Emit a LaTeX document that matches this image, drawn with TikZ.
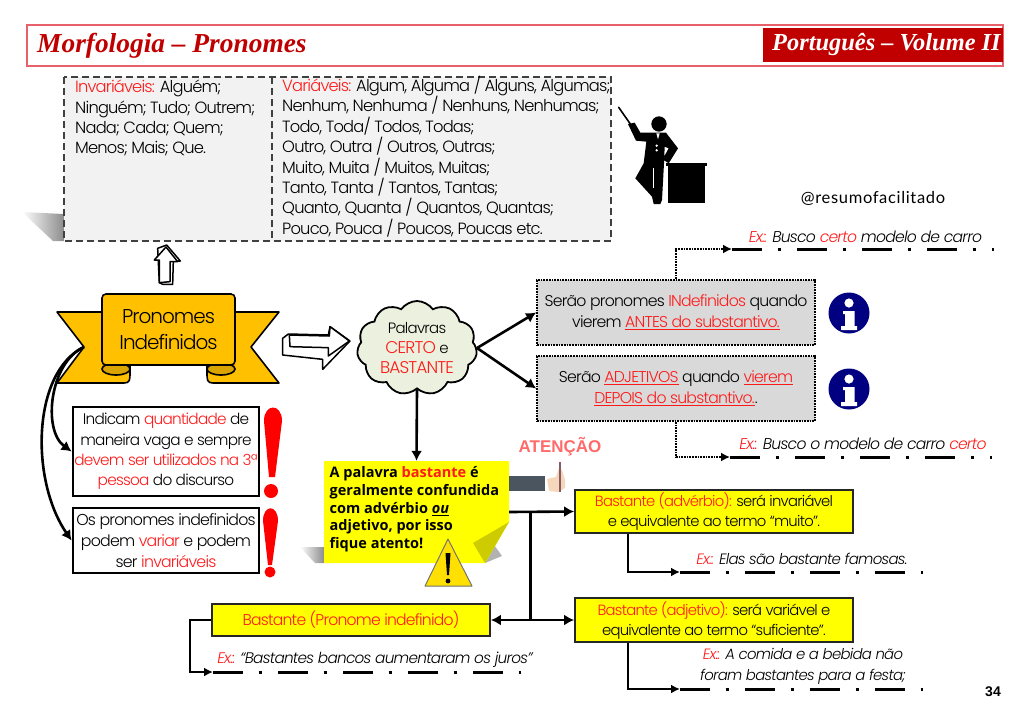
\documentclass[tikz,border=0pt]{standalone}
\usepackage{fontspec}
\usepackage{xcolor}
\usetikzlibrary{calc}
\usetikzlibrary{arrows.meta}
\usetikzlibrary{shapes.symbols}
\setmainfont[LetterSpace=-5,ItalicFont={Poppins Light Italic}]{Poppins Light}
\newfontfamily\titlefont{Liberation Serif}
\newfontfamily\notefont{Open Sans}
\newfontfamily\headfont{Liberation Sans}
\newfontfamily\tagfont[LetterSpace=4]{Lato}
\definecolor{txtred}{HTML}{FF1A1A}
\definecolor{deepred}{HTML}{C00000}
\definecolor{frame}{HTML}{E8606A}
\definecolor{amber}{HTML}{FFC000}
\definecolor{amberdark}{HTML}{D9A300}
\definecolor{greenish}{HTML}{EBF1DE}
\definecolor{navy}{HTML}{000080}
\definecolor{brightyellow}{HTML}{FFFF00}
\definecolor{foldyellow}{HTML}{CCCC00}
\definecolor{warnyellow}{HTML}{FFE000}
\definecolor{slate}{HTML}{4A5560}
\definecolor{skin}{HTML}{F5D8BC}
\definecolor{stick}{HTML}{8A5A60}
\newcommand{\rd}[1]{\textcolor{txtred}{#1}}
\newcommand{\bigcaps}[1]{{\fontsize{17}{20.4}\selectfont\textcolor{txtred}{#1}}}
\tikzstyle{listtext}=[inner sep=0pt, align=left, anchor=north west, font=\fontsize{16.3}{20.4}\selectfont]
\tikzstyle{greybox}=[draw, densely dotted, line width=1.7pt, fill=black!15, minimum width=278pt, minimum height=65pt, align=center, inner sep=0pt, font=\fontsize{15.7}{21}\selectfont]
\tikzstyle{blackbox}=[draw, line width=2.8pt, fill=white, minimum width=186pt, align=center, inner sep=0pt, font=\fontsize{15.3}{20.4}\selectfont]
\tikzstyle{yellowbox}=[draw=black!85, line width=1.8pt, fill=brightyellow, minimum width=278pt, align=center, inner sep=0pt, font=\fontsize{14.8}{20}\selectfont]
\tikzstyle{extext}=[inner sep=0pt, align=center, font=\itshape\fontsize{15.6}{21}\selectfont]
\tikzstyle{exline}=[line width=3pt, dash pattern=on 30pt off 15.5pt on 3.5pt off 16pt]
\tikzstyle{dotarrow}=[densely dotted, line width=1.7pt, -{Latex[length=9pt,width=9pt]}]
\tikzstyle{elbow}=[line width=1.8pt, -{Latex[length=9pt,width=9pt]}]
\tikzstyle{link}=[line width=2.6pt, -{Latex[length=10pt,width=11pt]}]
\tikzstyle{hollow}=[draw, line width=1.5pt, fill=white, line join=round]
\tikzstyle{fadeshadow}=[left color=white, right color=black!45]
\begin{document}
\begin{tikzpicture}
        [x=1pt,y=-1pt]
            \useasboundingbox (0,0) rectangle (1024,724);
            \draw [frame, line width=1.2pt] (27,25) rectangle (1003,66);
            \fill [deepred] (763,28) rectangle (1003,62);
            \node [anchor=west, inner sep=0pt, text=deepred, font=\titlefont\bfseries\itshape\fontsize{27.4}{27.4}\selectfont] (title) at (37,45.5) {Morfologia – Pronomes};
            \node [anchor=west, inner sep=0pt, text=white, font=\titlefont\bfseries\itshape\fontsize{24.4}{24.4}\selectfont] (volume) at (772,44.5) {Português – Volume II};

            \shade [fadeshadow] (22,212) -- (64,214) -- (64,241) -- (53,241) -- cycle;
            \draw [line width=1.3pt, black!75, fill=black!5, dash pattern=on 7pt off 4pt] (64,77) rectangle (611,241);
            \draw [line width=1.3pt, black!75, dash pattern=on 7pt off 4pt] (272,77) -- ++(0,164);
            \node [listtext] (invariaveis) at (75,80) {\rd{Invariáveis:} Alguém;\\Ninguém; Tudo; Outrem;\\Nada; Cada; Quem;\\Menos; Mais; Que.};
            \node [listtext] (variaveis) at (282,76) {\rd{Variáveis:} Algum, Alguma / Alguns, Algumas;\\Nenhum, Nenhuma / Nenhuns, Nenhumas;\\Todo, Toda/ Todos, Todas;\\Outro, Outra / Outros, Outras;\\Muito, Muita / Muitos, Muitas;\\Tanto, Tanta / Tantos, Tantas;\\Quanto, Quanta / Quantos, Quantas;\\Pouco, Pouca / Poucos, Poucas etc.};

            \begin{scope}[shift={(512,0)},scale=1/3]
                \draw [line width=1.6pt, line cap=round] (320,322) -- (355,372);
                \fill (441,372) circle (23);
                \fill (348,372) -- (368,368) -- (385,398) -- (462,398) -- (498,445) -- (470,490) -- (452,478) -- (470,445) -- (458,440) -- (456,490) -- (450,600) -- (445,612) -- (425,612) -- (420,590) -- (370,535) -- (395,490) -- (403,425) -- (372,422) -- cycle;
                \draw [white, line width=1.4pt] (425,505) -- (425,565);
                \fill [white] (433,400) -- (443,400) -- (438,418) -- cycle;
                \fill [white] (434,437) circle (4) (434,451) circle (4);
                \fill (462,488) rectangle (584,497);
                \fill (468,495) rectangle (578,608);
            \end{scope}
            \node [inner sep=0pt, font=\tagfont\fontsize{16.5}{16.5}\selectfont] (insta) at (873,198) {@resumofacilitado};

            \begin{scope}[scale=1/3]
                \draw [hollow] (473,745) -- (500,735) -- (541,783) -- (520,783) -- (518,853) -- (488,853) -- (478,848) -- cycle;
                \draw [hollow] (498,741) -- (533,785) -- (510,785) -- (510,845) -- (478,848) -- (478,780) -- (463,780) -- cycle;
            \end{scope}

            \draw [line width=1.6pt, fill=amber, line join=round] (102,312) -- (57,312) -- (84,347) -- (57,383) -- (124,383) .. controls (130,383) and (130,380) .. (130,372) -- (130,365) -- cycle;
            \draw [line width=1.6pt, fill=amber, line join=round] (235,312) -- (279,312) -- (251,347) -- (279,383) -- (213,383) .. controls (207,383) and (207,380) .. (207,372) -- (207,365) -- cycle;
            \draw [line width=1.6pt, fill=amberdark] (116,369) ellipse (14 and 6);
            \draw [line width=1.6pt, fill=amberdark] (221,369) ellipse (14 and 6);
            \node [draw, line width=1.6pt, fill=amber, rounded corners=4pt, minimum width=133pt, minimum height=71pt, inner sep=0pt, align=center, font=\fontsize{20}{26}\selectfont] (ribbon) at (168.5,329.5) {Pronomes\\Indefinidos};
            \coordinate (wingtip) at (84,347);

            \begin{scope}[shift={(20,280)},scale=1/3]
                \draw [hollow] (805,162) -- (788,175) -- (788,225) -- (908,238) -- (908,268) -- (990,183) -- (930,140) -- (925,165) -- cycle;
                \draw [hollow] (808,165) -- (928,168) -- (930,140) -- (988,183) -- (925,228) -- (925,203) -- (810,200) -- cycle;
            \end{scope}

            \node [cloud, cloud puffs=11, cloud puff arc=110, aspect=1.3, draw, line width=1.8pt, fill=greenish, minimum width=120pt, minimum height=94pt, inner sep=0pt, align=center, font=\fontsize{15}{20.4}\selectfont] (palavras) at (417,348) {Palavras\\\bigcaps{CERTO} e\\\bigcaps{BASTANTE}};

            \node [greybox] (boxindef) at (676,312.5) {Serão pronomes \rd{INdefinidos} quando\\vierem \rd{\underline{ANTES do substantivo.}}};
            \node [greybox] (boxadj) at (676,388.5) {Serão \rd{\underline{ADJETIVOS}} quando \rd{\underline{vierem}}\\\rd{\underline{DEPOIS do substantivo.}}.};
            \draw [link] (palavras.east) -- (boxindef.west);
            \draw [link] (palavras.east) -- (boxadj.west);

            \foreach \yy/\nn in {313/infoa,389/infob} {
                \node [circle, fill=navy, minimum size=41pt, inner sep=0pt] (\nn) at (849,\yy) {};
                \fill [white] (849,\yy-10) circle (4.6);
                \fill [white] (843,\yy-2) -- (854.5,\yy-2) -- (854.5,\yy+13) -- (857,\yy+13) -- (857,\yy+17) -- (841,\yy+17) -- (841,\yy+13) -- (845,\yy+13) -- (845,\yy+1) -- (843,\yy+1) -- cycle;
            }

            \coordinate (exa) at (732,249);
            \coordinate (exb) at (730,457);
            \draw [exline] (exa) -- ++(262,0);
            \draw [exline] (exb) -- ++(262,0);
            \draw [dotarrow] (boxindef.north) |- (exa);
            \draw [dotarrow] (boxadj.south) |- (exb);
            \node [extext] (extexta) at (865.5,237) {\rd{Ex.:} Busco \rd{certo} modelo de carro};
            \node [extext] (extextb) at (863,444) {\rd{Ex.:} Busco o modelo de carro \rd{certo}};

            \node [blackbox, minimum height=89pt] (boxquant) at (166,451.5) {Indicam \rd{quantidade} de\\maneira vaga e sempre\\\rd{devem ser utilizados na 3ª}\\\rd{pessoa} do discurso};
            \node [blackbox, minimum height=65pt, font=\fontsize{15.8}{20.8}\selectfont] (boxvaria) at (166,540.5) {Os pronomes indefinidos\\podem \rd{variar} e podem\\ser \rd{invariáveis}};
            \draw [link] (wingtip) .. controls (50,362) and (42,430) .. (boxquant.west);
            \draw [link] (wingtip) .. controls (32,372) and (30,480) .. (boxvaria.west);

            \fill [red] (264,421) .. controls (264,403) and (282,403) .. (282,421) -- (275,477) -- (269,477) -- cycle;
            \fill [red] (271,491) circle (7);
            \fill [red] (263,521) .. controls (263,504) and (278,504) .. (278,521) -- (272,565) -- (268,565) -- cycle;
            \fill [red] (270,572) circle (5.5);

            \shade [fadeshadow] (300,547) -- (324,547) -- (324,563) -- (315,563) -- cycle;
            \fill [black!30] (485,563) -- (502,556) -- (492,542) -- cycle;
            \fill [brightyellow] (324,461) -- (509,461) -- (509,522) -- (485,563) -- (324,563) -- cycle;
            \fill [foldyellow] (509,522) -- (473,543) -- (485,563) -- cycle;
            \node [minimum width=185pt, minimum height=102pt, inner sep=0pt] (note) at (416.5,512) {};
            \node [inner sep=0pt, anchor=north west, align=left, font=\notefont\bfseries\fontsize{14.5}{17.7}\selectfont] (notetext) at (329.5,466.5) {A palavra \rd{bastante} é\\geralmente confundida\\com advérbio \underline{\textit{ou}}\\adjetivo, por isso\\fique atento!};
            \draw [link] (palavras.south) -- (note.north);

            \draw [line width=1pt, black!55, fill=warnyellow, line join=round] (448,539) -- (472,586) -- (425,586) -- cycle;
            \fill (445.5,553) -- (450.5,553) -- (449,575) -- (447,575) -- cycle;
            \fill (448,581) circle (2.4);

            \node [inner sep=0pt, text=txtred!65!white, font=\headfont\bfseries\fontsize{17}{17}\selectfont] (atencao) at (560,447) {ATENÇÃO};
            \fill [slate] (509,476) rectangle (545,491);
            \fill [skin] (547,479) -- (556,477) -- (559,468) -- (562,470) -- (565,480) -- (565,488) -- (558,492) -- (549,491) -- cycle;
            \draw [stick, line width=2pt] (559.5,462) -- (559.5,492);

            \node [yellowbox, minimum height=43pt] (boxadv) at (714,511.5) {\rd{Bastante (advérbio):} será invariável\\e equivalente ao termo “muito”.};
            \node [yellowbox, minimum height=44pt] (boxadjt) at (714,620) {\rd{Bastante (adjetivo):} será variável e\\equivalente ao termo “suficiente”.};
            \node [yellowbox, minimum height=32pt, font=\fontsize{15.6}{20}\selectfont] (boxpron) at (351,620) {\rd{Bastante (Pronome indefinido)}};
            \coordinate (junca) at (530,512);
            \coordinate (juncb) at (530,620);
            \draw [line width=3pt] (junca) -- (juncb);
            \draw [link] (note.east) -- (boxadv.west);
            \draw [link] (juncb) -- (boxadjt.west);
            \draw [link] (juncb) -- (boxpron.east);

            \coordinate (exadv) at (680,572);
            \coordinate (exadj) at (680,689);
            \coordinate (expron) at (213,672);
            \draw [exline] (exadv) -- ++(243,0);
            \draw [exline] (exadj) -- ++(243,0);
            \draw [exline] (expron) -- ++(308,0);
            \draw [elbow] (boxadv.south west) ++(54,0) |- (exadv);
            \draw [elbow] (boxadjt.south west) ++(54,0) |- (exadj);
            \draw [elbow] (boxpron.west) -- ++(-21,0) |- (expron);
            \node [extext, font=\itshape\fontsize{15}{21}\selectfont] (extextc) at (802,559) {\rd{Ex.:} Elas são bastante famosas.};
            \node [extext, font=\itshape\fontsize{14.9}{21}\selectfont] (extextd) at (803,666) {\rd{Ex.:} A comida e a bebida não\\foram bastantes para a festa;};
            \node [extext, font=\itshape\fontsize{15.3}{21}\selectfont] (extexte) at (375,660) {\rd{Ex.:} “Bastantes bancos aumentaram os juros”};

            \node [inner sep=0pt, font=\headfont\bfseries\fontsize{14}{14}\selectfont] (pagenum) at (993,692) {34};
        \end{tikzpicture}
\end{document}
